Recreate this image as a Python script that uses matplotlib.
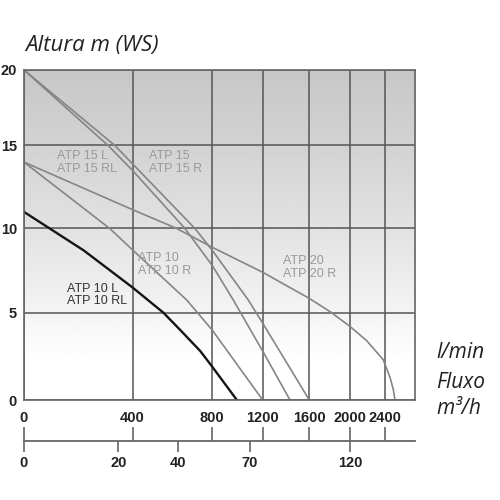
import numpy as np
import matplotlib
matplotlib.use("Agg")
import matplotlib.pyplot as plt
from matplotlib.ticker import FixedLocator, FixedFormatter, NullFormatter

# vazao l/min e altura m
fluxo_10L = [0, 220, 400, 555, 640, 740, 800, 995]
altura_10L = [11, 8.7, 6.5, 5.0, 4.0, 2.8, 1.9, 0]

fluxo_10 = [0, 316, 403, 672, 800, 1200]
altura_10 = [14, 10, 8.7, 5.75, 4.0, 0]

fluxo_15 = [0, 335, 400, 713, 800, 1086, 1200, 1600]
altura_15 = [20, 15, 13.9, 10, 8.7, 5.75, 4.4, 0]

fluxo_15L = [0, 310, 400, 663, 800, 967, 1200, 1434]
altura_15L = [20, 15, 13.5, 10, 7.8, 5.75, 2.8, 0]

fluxo_20 = [0, 391, 622, 797, 1200, 1600, 1818, 2000, 2187, 2377, 2463, 2508, 2530]
altura_20 = [14, 11.2, 10, 8.9, 7.4, 5.85, 5.0, 4.2, 3.4, 2.3, 1.3, 0.6, 0]

lmin_ticks = [0, 400, 800, 1200, 1600, 2000, 2400]
altura_ticks = [0, 5, 10, 15, 20]
m3h_labels = ["0", "20", "40", "70", "120"]
m3h_em_lmin = [0, 348, 627, 1099, 2000]

# escala nao linear do eixo x (como no catalogo)
x_nos = [0, 400, 800, 1200, 1600, 2000, 2400, 2800]
x_px = [0, 108.5, 188.3, 238.7, 285.3, 326.3, 361.3, 391]
y_nos = [0, 5, 10, 15, 20]
y_px = [0, 87.3, 171.5, 254.5, 330]

def fx(v):
    return np.interp(v, x_nos, x_px)

def fx_inv(v):
    return np.interp(v, x_px, x_nos)

def fy(v):
    return np.interp(v, y_nos, y_px)

def fy_inv(v):
    return np.interp(v, y_px, y_nos)

fig = plt.figure(figsize=(5, 5), dpi=100)
rect = [0.048, 0.2, 0.782, 0.66]

# fundo degrade
bg = fig.add_axes(rect, zorder=0)
t = np.linspace(0, 1, 200)
cinza = np.interp(t, [0, 0.12, 0.25, 0.5, 0.75, 1.0], [1.0, 1.0, 0.96, 0.89, 0.83, 0.78])
bg.imshow(cinza[::-1].reshape(-1, 1), cmap="gray", vmin=0, vmax=1,
          aspect="auto", extent=[0, 1, 0, 1])
bg.axis("off")

ax = fig.add_axes(rect, zorder=1)
ax.set_facecolor("none")
ax.set_xscale("function", functions=(fx, fx_inv))
ax.set_yscale("function", functions=(fy, fy_inv))
ax.set_xlim(0, 2800)
ax.set_ylim(0, 20)

cor_linha = "#858585"
ax.plot(fluxo_15, altura_15, color=cor_linha, lw=1.2)
ax.plot(fluxo_15L, altura_15L, color=cor_linha, lw=1.2)
ax.plot(fluxo_20, altura_20, color=cor_linha, lw=1.2)
ax.plot(fluxo_10, altura_10, color=cor_linha, lw=1.2)
ax.plot(fluxo_10L, altura_10L, color="#151515", lw=1.7)

ax.set_xticks(lmin_ticks)
ax.set_yticks(altura_ticks)
ax.grid(True, color="#555555", lw=1.1)
ax.set_axisbelow(True)
for s in ax.spines.values():
    s.set_color("#666666")
    s.set_linewidth(1.2)

fonte_ticks = ["Liberation Sans Narrow", "Liberation Sans"]
ax.tick_params(length=0, labelsize=10.5, colors="#222222")
ax.tick_params(axis="x", pad=8)
ax.tick_params(axis="y", pad=5)
for lb in ax.get_xticklabels() + ax.get_yticklabels():
    lb.set_fontfamily(fonte_ticks)
    lb.set_fontweight("bold")

fonte_txt = dict(family="Liberation Sans", fontsize=9, va="center", linespacing=1.1)
ax.text(122, 13.95, "ATP 15 L\nATP 15 RL", color="#9a9a9a", **fonte_txt)
ax.text(483, 13.95, "ATP 15\nATP 15 R", color="#9a9a9a", **fonte_txt)
ax.text(428, 7.86, "ATP 10\nATP 10 R", color="#9a9a9a", **fonte_txt)
ax.text(158, 6.05, "ATP 10 L\nATP 10 RL", color="#333333", **fonte_txt)
ax.text(1374, 7.68, "ATP 20\nATP 20 R", color="#9a9a9a", **fonte_txt)

# segundo eixo m3/h
ax2 = fig.add_axes([0.048, 0.1186, 0.782, 0.001], zorder=1)
ax2.set_facecolor("none")
ax2.set_xscale("function", functions=(fx, fx_inv))
ax2.set_xlim(0, 2800)
ax2.set_yticks([])
for k in ["top", "left", "right"]:
    ax2.spines[k].set_visible(False)
ax2.spines["bottom"].set_color("#666666")
ax2.spines["bottom"].set_linewidth(1.3)
ax2.xaxis.remove_overlapping_locs = False
ax2.xaxis.set_major_locator(FixedLocator(lmin_ticks))
ax2.xaxis.set_major_formatter(NullFormatter())
ax2.xaxis.set_minor_locator(FixedLocator(m3h_em_lmin))
ax2.xaxis.set_minor_formatter(FixedFormatter(m3h_labels))
ax2.tick_params(which="major", direction="in", length=10, width=1.2, color="#666666")
ax2.tick_params(which="minor", direction="out", length=8, width=1.2, color="#666666",
                pad=3, labelsize=10.5, labelcolor="#222222")
for lb in ax2.get_xticklabels(minor=True):
    lb.set_fontfamily(fonte_ticks)
    lb.set_fontweight("bold")

fonte_tit = dict(family=["Open Sans", "DejaVu Sans"], style="italic", color="#222222")
fig.text(0.05, 0.91, "Altura m (WS)", va="center", fontsize=16, **fonte_tit)
fig.text(0.872, 0.296, "l/min", va="center", fontsize=15, **fonte_tit)
fig.text(0.872, 0.236, "Fluxo", va="center", fontsize=15, **fonte_tit)
fig.text(0.872, 0.182, "m³/h", va="center", fontsize=15, **fonte_tit)

fig.savefig("out.png", dpi=100)
